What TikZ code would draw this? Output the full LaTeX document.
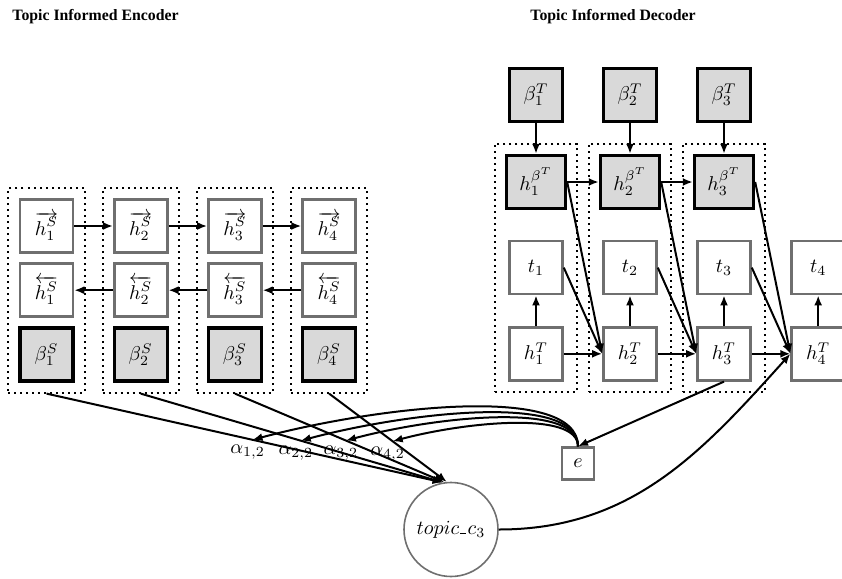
\documentclass[tikz,border=0pt]{standalone}
\usepackage{fontspec}
\usepackage{tikz}
\usetikzlibrary{arrows.meta,positioning,fit,calc}
\newfontfamily\titlefont{Liberation Serif}
\definecolor{boxgray}{HTML}{6F6F6F}
\newcommand{\uscore}{\kern.06em\vbox{\hrule width.3em height .4pt}\kern.06em}

\begin{document}
\begin{tikzpicture}[
    x=0.5pt, y=-0.5pt,
    box/.style={draw=boxgray, line width=1.3pt, fill=white,
                minimum size=26.5pt, inner sep=2pt},
    tbox/.style={box, draw=black, line width=1.7pt, fill=black!15},
    grp/.style={draw, dotted, line width=1pt, inner sep=5pt},
    arr/.style={-{Latex[length=5pt,width=4pt]}, line width=1pt},
    ttl/.style={font=\titlefont\bfseries\fontsize{7.9}{9}\selectfont,
                anchor=base west, inner sep=0pt},
    alab/.style={anchor=north, inner sep=2.5pt, xshift=-2.5pt},
  ]
  \useasboundingbox (0,0) rectangle (842,579);

  % titles
  \node[ttl] (enctitle) at (12,20) {Topic Informed Encoder};
  \node[ttl] (dectitle) at (530,20) {Topic Informed Decoder};

  % encoder
  \node[box] (hf1) at (46.5,226) {$\overrightarrow{h_1^S}$};
  \node[box, right=19.3pt of hf1] (hf2) {$\overrightarrow{h_2^S}$};
  \node[box, right=19.3pt of hf2] (hf3) {$\overrightarrow{h_3^S}$};
  \node[box, right=19.3pt of hf3] (hf4) {$\overrightarrow{h_4^S}$};

  \node[box, below=4.3pt of hf1] (hb1) {$\overleftarrow{h_1^S}$};
  \node[box, below=4.3pt of hf2] (hb2) {$\overleftarrow{h_2^S}$};
  \node[box, below=4.3pt of hf3] (hb3) {$\overleftarrow{h_3^S}$};
  \node[box, below=4.3pt of hf4] (hb4) {$\overleftarrow{h_4^S}$};

  \node[tbox, below=4.1pt of hb1] (bs1) {$\beta_1^S$};
  \node[tbox, below=4.1pt of hb2] (bs2) {$\beta_2^S$};
  \node[tbox, below=4.1pt of hb3] (bs3) {$\beta_3^S$};
  \node[tbox, below=4.1pt of hb4] (bs4) {$\beta_4^S$};

  \node[grp, fit=(hf1)(bs1)] (enc1) {};
  \node[grp, fit=(hf2)(bs2)] (enc2) {};
  \node[grp, fit=(hf3)(bs3)] (enc3) {};
  \node[grp, fit=(hf4)(bs4)] (enc4) {};

  \draw[arr] (hf1) -- (hf2);
  \draw[arr] (hf2) -- (hf3);
  \draw[arr] (hf3) -- (hf4);
  \draw[arr] (hb2) -- (hb1);
  \draw[arr] (hb3) -- (hb2);
  \draw[arr] (hb4) -- (hb3);

  % decoder
  \node[tbox] (bt1) at (536,95) {$\beta_1^T$};
  \node[tbox, right=18.8pt of bt1] (bt2) {$\beta_2^T$};
  \node[tbox, right=18.8pt of bt2] (bt3) {$\beta_3^T$};

  \node[tbox, minimum width=29.5pt, below=15.3pt of bt1] (hbt1) {$h_1^{\beta^T}$};
  \node[tbox, minimum width=29.5pt, below=15.3pt of bt2] (hbt2) {$h_2^{\beta^T}$};
  \node[tbox, minimum width=29.5pt, below=15.3pt of bt3] (hbt3) {$h_3^{\beta^T}$};

  \node[box, below=14.8pt of hbt1] (t1) {$t_1$};
  \node[box, below=14.8pt of hbt2] (t2) {$t_2$};
  \node[box, below=14.8pt of hbt3] (t3) {$t_3$};
  \node[box, right=19.3pt of t3]   (t4) {$t_4$};

  \node[box, below=15.3pt of t1] (ht1) {$h_1^T$};
  \node[box, below=15.3pt of t2] (ht2) {$h_2^T$};
  \node[box, below=15.3pt of t3] (ht3) {$h_3^T$};
  \node[box, below=15.3pt of t4] (ht4) {$h_4^T$};

  \node[grp, fit=(hbt1)(ht1)] (dec1) {};
  \node[grp, fit=(hbt2)(ht2)] (dec2) {};
  \node[grp, fit=(hbt3)(ht3)] (dec3) {};

  \draw[arr] (bt1) -- (hbt1);
  \draw[arr] (bt2) -- (hbt2);
  \draw[arr] (bt3) -- (hbt3);
  \draw[arr] (hbt1) -- (hbt2);
  \draw[arr] (hbt2) -- (hbt3);

  \draw[arr] (ht1) -- (t1);
  \draw[arr] (ht2) -- (t2);
  \draw[arr] (ht3) -- (t3);
  \draw[arr] (ht4) -- (t4);
  \draw[arr] (ht1) -- (ht2);
  \draw[arr] (ht2) -- (ht3);
  \draw[arr] (ht3) -- (ht4);

  \draw[arr] (hbt1.east) -- (ht2.west);
  \draw[arr] (hbt2.east) -- (ht3.west);
  \draw[arr] (hbt3.east) -- (ht4.west);
  \draw[arr] (t1.east) -- (ht2.west);
  \draw[arr] (t2.east) -- (ht3.west);
  \draw[arr] (t3.east) -- (ht4.west);

  % attention
  \node[box, minimum size=16pt, line width=1.2pt] (e) at (578,463.5) {$e$};
  \node[draw=boxgray, circle, line width=0.8pt, minimum size=47pt, inner sep=0pt]
       (topic) at (451,529.5) {$topic\uscore c_3$};

  \draw[arr] (ht3.south) -- (e.north);
  \draw[arr] (topic.east) to[out=0, in=228] (ht4.west);

  \draw[arr] (enc1.south) -- (topic.100);
  \draw[arr] (enc2.south) -- (topic.100);
  \draw[arr] (enc3.south) -- (topic.98);
  \draw[arr] (enc4.south) -- (topic.95);

  \coordinate (a1) at ($(enc1.south)!0.52!(topic.100)$);
  \coordinate (a2) at ($(enc2.south)!0.53!(topic.100)$);
  \coordinate (a3) at ($(enc3.south)!0.53!(topic.98)$);
  \coordinate (a4) at ($(enc4.south)!0.54!(topic.95)$);

  \draw[arr] (e.north) to[out=90, in=15, out looseness=0.5] (a1);
  \draw[arr] (e.north) to[out=90, in=15, out looseness=0.5] (a2);
  \draw[arr] (e.north) to[out=90, in=15, out looseness=0.5] (a3);
  \draw[arr] (e.north) to[out=90, in=15, out looseness=0.5] (a4);

  \node[alab] (l1) at (a1) {$\alpha_{1,2}$};
  \node[alab] (l2) at (a2) {$\alpha_{2,2}$};
  \node[alab] (l3) at (a3) {$\alpha_{3,2}$};
  \node[alab] (l4) at (a4) {$\alpha_{4,2}$};
\end{tikzpicture}
\end{document}
